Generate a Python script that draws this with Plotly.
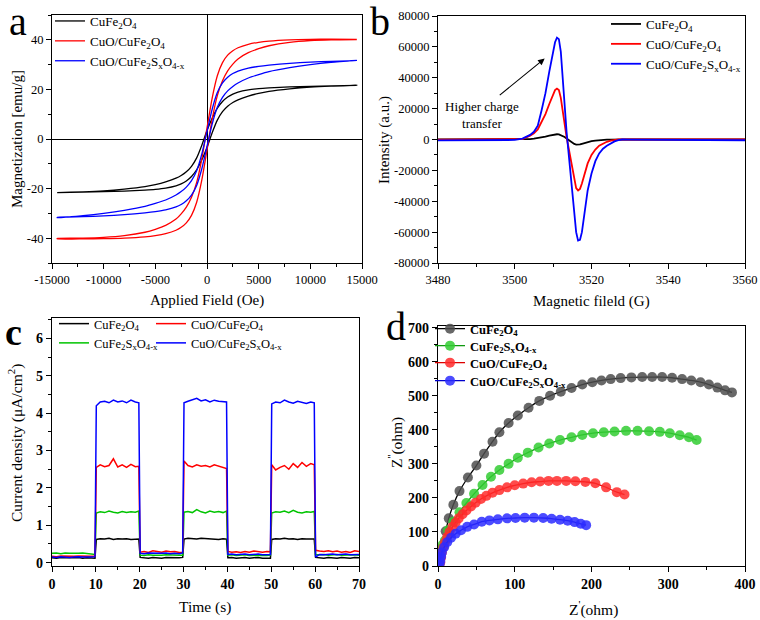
import plotly.graph_objects as go

W, H = 760, 620
SERIF = "Liberation Serif"

# ---------------- Panel a : hysteresis loops ----------------
H_desc = [14500, 12000, 10000, 8000, 6000, 5000, 4000, 3000, 2500, 2000, 1500, 1000, 500, 0,
          -500, -1000, -1500, -2000, -2500, -3000, -4000, -5000, -6000, -8000, -10000, -12000, -14500]
H_asc = [-14500, -12000, -10000, -8000, -6000, -5000, -4000, -3000, -2500, -2000, -1500, -1000, -500, 0,
         500, 1000, 1500, 2000, 2500, 3000, 4000, 5000, 6000, 8000, 10000, 12000, 14500]

blk_up = [21.6, 21.4, 21.2, 21.0, 20.6, 20.3, 19.8, 18.9, 18.1, 16.9, 15.1, 12.4, 8.4, 3.4,
          -2.5, -7.6, -11.0, -13.2, -14.7, -15.8, -17.3, -18.4, -19.2, -20.2, -20.9, -21.3, -21.6]
blk_dn = [-21.6, -21.4, -21.2, -21.0, -20.6, -20.3, -19.8, -18.9, -18.1, -16.9, -15.1, -12.4, -8.4, -3.4,
          2.5, 7.6, 11.0, 13.2, 14.7, 15.8, 17.3, 18.4, 19.2, 20.2, 20.9, 21.3, 21.6]
red_up = [40.2, 40.3, 40.2, 40.0, 39.5, 39.0, 38.2, 36.8, 35.6, 33.8, 30.8, 25.5, 16.5, 4.5,
          -8.0, -17.5, -23.5, -27.5, -30.2, -32.3, -34.8, -36.4, -37.6, -39.0, -39.7, -40.0, -40.1]
red_dn = [-40.2, -40.3, -40.2, -40.0, -39.5, -39.0, -38.2, -36.8, -35.6, -33.8, -30.8, -25.5, -16.5, -4.5,
          8.0, 17.5, 23.5, 27.5, 30.2, 32.3, 34.8, 36.4, 37.6, 39.0, 39.7, 40.0, 40.1]
blu_up = [31.6, 31.3, 31.0, 30.5, 29.8, 29.3, 28.6, 27.4, 26.4, 24.9, 22.6, 18.7, 12.0, 3.0,
          -6.0, -12.8, -16.8, -19.4, -21.2, -22.6, -24.6, -26.0, -27.2, -28.8, -30.0, -30.9, -31.7]
blu_dn = [-31.6, -31.3, -31.0, -30.5, -29.8, -29.3, -28.6, -27.4, -26.4, -24.9, -22.6, -18.7, -12.0, -3.0,
          6.0, 12.8, 16.8, 19.4, 21.2, 22.6, 24.6, 26.0, 27.2, 28.8, 30.0, 30.9, 31.7]

# ---------------- Panel b : EPR ----------------
B_x = [3480, 3490, 3500, 3502, 3504, 3505, 3506, 3507, 3508, 3509,
       3510, 3510.5, 3511, 3511.5, 3512, 3512.5, 3513, 3513.5, 3514, 3514.5,
       3515, 3515.5, 3516, 3516.5, 3517, 3517.5, 3518, 3518.5, 3519, 3520,
       3521, 3522, 3523, 3524, 3525, 3526, 3527, 3528, 3530, 3540, 3550, 3560]
epr_blk = [0, 0, 0, 100, 300, 500, 800, 1300, 1800, 2500,
           3100, 3300, 3400, 3300, 2800, 2300, 1600, 700, -300, -1300,
           -2200, -2900, -3300, -3400, -3200, -2800, -2400, -2000, -1700, -1100,
           -700, -400, -250, -100, -50, 0, 0, 0, 0, 0, 0, 0]
epr_red = [-100, -100, 0, 300, 2500, 4000, 6500, 11000, 16500, 23000,
           29500, 32000, 33000, 32000, 27000, 18000, 9000, 1500, -5000, -12000,
           -20000, -27000, -31500, -33000, -32000, -28500, -24000, -19500, -15500, -10000,
           -6500, -4000, -2500, -1500, -700, -200, 0, 0, 0, 0, 0, 0]
epr_blu = [-600, -500, -300, 600, 3000, 5000, 9000, 19000, 30000, 44000,
           58000, 63000, 66000, 65000, 57000, 38000, 20000, 5000, -8000, -22000,
           -37000, -50000, -60000, -65500, -65000, -60000, -50000, -41000, -33000, -22000,
           -14000, -9000, -6000, -4000, -2500, -1200, -400, 0, -100, -300, -400, -500]

# ---------------- Panel c : photocurrent ----------------
T = [0, 1, 2, 3, 4, 5, 6, 7, 8, 9, 9.8,
     10.1, 11, 12, 13, 14, 15, 16, 17, 18, 19, 19.8,
     20.1, 21, 22, 23, 24, 25, 26, 27, 28, 29, 29.8,
     30.1, 31, 32, 33, 34, 35, 36, 37, 38, 39, 39.8,
     40.1, 41, 42, 43, 44, 45, 46, 47, 48, 49, 49.8,
     50.1, 51, 52, 53, 54, 55, 56, 57, 58, 59, 59.8,
     60.1, 61, 62, 63, 64, 65, 66, 67, 68, 69, 70]
j_blk = [0.13, 0.12, 0.14, 0.13, 0.12, 0.13, 0.14, 0.12, 0.13, 0.13, 0.12,
         0.62, 0.64, 0.63, 0.65, 0.62, 0.64, 0.63, 0.64, 0.62, 0.63, 0.63,
         0.14, 0.13, 0.12, 0.14, 0.13, 0.12, 0.14, 0.13, 0.12, 0.13, 0.14,
         0.63, 0.65, 0.64, 0.63, 0.65, 0.64, 0.63, 0.64, 0.62, 0.64, 0.63,
         0.13, 0.14, 0.12, 0.13, 0.14, 0.12, 0.13, 0.14, 0.12, 0.13, 0.12,
         0.62, 0.64, 0.63, 0.65, 0.63, 0.64, 0.62, 0.64, 0.63, 0.62, 0.63,
         0.14, 0.13, 0.12, 0.14, 0.13, 0.12, 0.14, 0.13, 0.12, 0.14, 0.13]
j_red = [0.17, 0.16, 0.18, 0.17, 0.16, 0.17, 0.18, 0.17, 0.16, 0.17, 0.17,
         2.55, 2.62, 2.57, 2.60, 2.78, 2.56, 2.62, 2.55, 2.63, 2.57, 2.58,
         0.28, 0.30, 0.27, 0.32, 0.30, 0.28, 0.31, 0.29, 0.30, 0.27, 0.28,
         2.72, 2.60, 2.56, 2.62, 2.58, 2.60, 2.56, 2.62, 2.58, 2.55, 2.52,
         0.30, 0.28, 0.29, 0.27, 0.30, 0.28, 0.31, 0.29, 0.28, 0.30, 0.29,
         2.62, 2.48, 2.55, 2.60, 2.50, 2.65, 2.55, 2.68, 2.58, 2.65, 2.62,
         0.33, 0.31, 0.30, 0.32, 0.29, 0.31, 0.28, 0.30, 0.27, 0.32, 0.30]
j_grn = [0.25, 0.26, 0.24, 0.26, 0.25, 0.24, 0.25, 0.26, 0.24, 0.23, 0.22,
         1.33, 1.36, 1.34, 1.38, 1.35, 1.33, 1.37, 1.34, 1.36, 1.35, 1.38,
         0.20, 0.19, 0.21, 0.20, 0.19, 0.20, 0.21, 0.20, 0.19, 0.20, 0.20,
         1.35, 1.37, 1.34, 1.42, 1.36, 1.33, 1.38, 1.35, 1.37, 1.34, 1.38,
         0.20, 0.21, 0.19, 0.20, 0.21, 0.19, 0.20, 0.21, 0.20, 0.19, 0.20,
         1.33, 1.36, 1.35, 1.38, 1.34, 1.40, 1.35, 1.33, 1.36, 1.35, 1.37,
         0.22, 0.21, 0.22, 0.20, 0.21, 0.22, 0.20, 0.21, 0.22, 0.21, 0.20]
j_blu = [0.15, 0.14, 0.16, 0.15, 0.14, 0.15, 0.16, 0.15, 0.14, 0.15, 0.16,
         4.20, 4.30, 4.32, 4.28, 4.35, 4.30, 4.33, 4.28, 4.35, 4.30, 4.28,
         0.25, 0.24, 0.26, 0.25, 0.24, 0.25, 0.26, 0.24, 0.25, 0.24, 0.26,
         4.28, 4.32, 4.35, 4.40, 4.33, 4.36, 4.30, 4.35, 4.32, 4.30, 4.30,
         0.22, 0.23, 0.21, 0.22, 0.23, 0.21, 0.22, 0.23, 0.21, 0.22, 0.22,
         4.25, 4.30, 4.28, 4.35, 4.30, 4.27, 4.32, 4.28, 4.26, 4.30, 4.28,
         0.15, 0.22, 0.21, 0.22, 0.23, 0.21, 0.22, 0.23, 0.21, 0.22, 0.22]

# ---------------- Panel d : Nyquist ----------------
zr_blk = [10, 14, 20, 28, 39, 50, 60, 71, 80, 92, 104, 118, 132, 146, 160, 174, 188, 201, 213, 225,
          238, 252, 266, 279, 292, 305, 318, 330, 342, 353, 364, 374, 383]
zi_blk = [102, 140, 180, 220, 260, 295, 330, 365, 393, 420, 442, 465, 485, 500, 512, 523, 533, 540, 545, 549,
          552, 554, 555, 555, 555, 553, 549, 545, 540, 533, 524, 516, 510]
zr_grn = [3, 6, 9, 13, 20, 28, 37, 47, 58, 69, 80, 92, 104, 117, 131, 145, 159, 174, 188, 202,
          216, 230, 245, 260, 275, 289, 302, 315, 327, 337]
zi_grn = [50, 62, 75, 105, 130, 158, 185, 212, 238, 262, 282, 300, 318, 333, 348, 360, 370, 378, 385, 390,
          393, 395, 397, 397, 396, 394, 390, 384, 378, 370]
zr_red = [3, 4, 5, 7, 9, 12, 15, 19, 23, 27, 32, 37, 43, 49, 56, 63, 71, 80, 90, 100,
          111, 122, 133, 144, 155, 167, 179, 192, 205, 219, 233, 243]
zi_red = [10, 25, 40, 55, 70, 85, 100, 115, 128, 140, 152, 163, 175, 186, 197, 206, 215, 223, 231, 237,
          242, 246, 248, 250, 250, 250, 249, 247, 243, 231, 217, 210]
zr_blu = [2, 3, 4, 5, 8, 12, 17, 23, 30, 38, 47, 57, 67, 78, 90, 101, 113, 125, 137, 148,
          159, 169, 178, 186, 193]
zi_blu = [5, 15, 28, 40, 55, 70, 83, 95, 105, 115, 122, 130, 134, 137, 140, 141, 142, 142, 141, 139,
          136, 133, 129, 124, 120]

# ---------------- labels ----------------
N_CF = "CuFe<sub>2</sub>O<sub>4</sub>"
N_CUCF = "CuO/CuFe<sub>2</sub>O<sub>4</sub>"
N_CFS = "CuFe<sub>2</sub>S<sub>x</sub>O<sub>4-x</sub>"
N_CUCFS = "CuO/CuFe<sub>2</sub>S<sub>x</sub>O<sub>4-x</sub>"

a_xticks = [-15000, -10000, -5000, 0, 5000, 10000, 15000]
a_xtext = ["-15000", "-10000", "-5000", "0", "5000", "10000", "15000"]
a_yticks = [-40, -20, 0, 20, 40]
a_ytext = ["-40", "-20", "0", "20", "40"]
b_xticks = [3480, 3500, 3520, 3540, 3560]
b_yticks = [-80000, -60000, -40000, -20000, 0, 20000, 40000, 60000, 80000]
b_ytext = ["-80000", "-60000", "-40000", "-20000", "0", "20000", "40000", "60000", "80000"]
c_xticks = [0, 10, 20, 30, 40, 50, 60, 70]
c_yticks = [0, 1, 2, 3, 4, 5, 6]
d_xticks = [0, 100, 200, 300, 400]
d_yticks = [0, 100, 200, 300, 400, 500, 600, 700]

BLACK, RED, BLUE, GREEN = "#000000", "#ff0000", "#0000ff", "#00c400"


def px(x):
    return x / W


def py(y):
    return 1 - y / H


fig = go.Figure()

# panel a traces
for up, dn, col, name in [(blk_up, blk_dn, BLACK, N_CF), (red_up, red_dn, RED, N_CUCF),
                          (blu_up, blu_dn, BLUE, N_CUCFS)]:
    fig.add_trace(go.Scatter(x=H_desc + H_asc, y=up + dn, mode="lines", name=name,
                             line=dict(color=col, width=1.3, shape="spline", smoothing=0.6),
                             xaxis="x", yaxis="y", legend="legend"))

# panel b traces
for yy, col, name in [(epr_blk, BLACK, N_CF), (epr_red, RED, N_CUCF), (epr_blu, BLUE, N_CUCFS)]:
    fig.add_trace(go.Scatter(x=B_x, y=yy, mode="lines", name=name,
                             line=dict(color=col, width=1.8),
                             xaxis="x2", yaxis="y2", legend="legend2"))

# panel c traces
for yy, col, name, lg in [(j_blk, BLACK, N_CF, "legend3"), (j_grn, GREEN, N_CFS, "legend3"),
                          (j_red, RED, N_CUCF, "legend5"), (j_blu, BLUE, N_CUCFS, "legend5")]:
    fig.add_trace(go.Scatter(x=T, y=yy, mode="lines", name=name,
                             line=dict(color=col, width=1.5),
                             xaxis="x3", yaxis="y3", legend=lg))

# panel d traces (one legend box per entry, to match the tight row spacing)
for xr, yi, mcol, lcol, name, lg in [(zr_blk, zi_blk, "#4d4d4d", "#000000", N_CF, "legend4"),
                                     (zr_grn, zi_grn, "#33cc33", "#119911", N_CFS, "legend6"),
                                     (zr_red, zi_red, "#ff2b2b", "#dd0000", N_CUCF, "legend7"),
                                     (zr_blu, zi_blu, "#2b2bff", "#0000cc", N_CUCFS, "legend8")]:
    fig.add_trace(go.Scatter(x=xr, y=yi, mode="lines+markers", name=name,
                             line=dict(color=lcol, width=1.3, shape="spline", smoothing=0.8),
                             marker=dict(color=mcol, size=10, opacity=0.85, line=dict(width=0)),
                             xaxis="x4", yaxis="y4", legend=lg))

tickfont_reg = dict(family=SERIF, size=12.5, color="black")
tickfont_bold = dict(family=SERIF, size=14, color="black", weight="bold")


def axis(dom, anchor, rng, tickvals, ticktext, dtick_minor, font, zeroline=False):
    return dict(domain=dom, anchor=anchor, range=rng, tickvals=tickvals, ticktext=ticktext,
                automargin=False,
                showline=True, mirror=True, linecolor="black", linewidth=1.2,
                showgrid=False, zeroline=zeroline, zerolinecolor="black", zerolinewidth=1.2,
                ticks="outside", ticklen=5, tickwidth=1.1, tickcolor="black", tickfont=font,
                minor=dict(ticks="outside", ticklen=3, tickwidth=1, tickcolor="black",
                           dtick=dtick_minor, showgrid=False),
                fixedrange=True)


def leg(x, y, size, bold=False):
    return dict(x=px(x), y=py(y), xanchor="left", yanchor="top", bgcolor="rgba(0,0,0,0)",
                font=dict(family=SERIF, size=size, color="black",
                          weight="bold" if bold else "normal"))


fig.update_layout(
    width=W, height=H, margin=dict(l=0, r=0, t=0, b=0, autoexpand=False),
    paper_bgcolor="white", plot_bgcolor="white",
    font=dict(family=SERIF, color="black"),
    xaxis=axis([px(52), px(362)], "y", [-15000, 15000], a_xticks, a_xtext, 2500, tickfont_reg, True),
    yaxis=axis([py(263), py(15)], "x", [-50, 50], a_yticks, a_ytext, 10, tickfont_reg, True),
    xaxis2=axis([px(438), px(745)], "y2", [3480, 3560], b_xticks, [str(v) for v in b_xticks], 10, tickfont_reg),
    yaxis2=axis([py(263), py(16)], "x2", [-80000, 80000], b_yticks, b_ytext, 10000, tickfont_reg),
    xaxis3=axis([px(52), px(359)], "y3", [0, 70], c_xticks, [str(v) for v in c_xticks], 5, tickfont_bold),
    yaxis3=axis([py(566), py(318)], "x3", [-0.09, 6.55], c_yticks, [str(v) for v in c_yticks], 0.5, tickfont_bold),
    xaxis4=axis([px(438), px(745)], "y4", [0, 400], d_xticks, [str(v) for v in d_xticks], 50, tickfont_bold),
    yaxis4=axis([py(566), py(326)], "x4", [0, 705], d_yticks, [str(v) for v in d_yticks], 50, tickfont_bold),
    showlegend=True,
    legend=leg(50, 6, 13),
    legend2=leg(606, 9, 13),
    legend3=leg(54, 309, 12.5),
    legend5=leg(151, 309, 12.5),
    legend4=leg(430, 314, 12.5, True),
    legend6=leg(430, 331, 12.5, True),
    legend7=leg(430, 348, 12.5, True),
    legend8=leg(430, 366, 12.5, True),
)

ann = []


def txt(x, y, s, size, angle=0, bold=False):
    ann.append(dict(xref="paper", yref="paper", x=px(x), y=py(y), text=s, showarrow=False,
                    xanchor="center", yanchor="middle", textangle=angle,
                    font=dict(family=SERIF, size=size, color="black",
                              weight="bold" if bold else "normal")))


# axis titles
txt(207, 300, "Applied Field (Oe)", 15)
txt(17, 139, "Magnetization [emu/g]", 15, -90)
txt(591, 301, "Magnetic fileld (G)", 15)
txt(384, 140, "Intensity (a.u.)", 15, -90)
txt(205, 607, "Time (s)", 15.5)
txt(15, 443, "Current density (μA/cm<sup>2</sup>)", 15.5, -90)
txt(593, 608, "Z<sup>'</sup>(ohm)", 15.5)
txt(395, 443, "Z<sup>''</sup>(ohm)", 15.5, -90)
# panel letters
txt(18, 21, "a", 40)
txt(380, 21, "b", 40)
txt(14, 332, "c", 38, bold=True)
txt(396, 326, "d", 40)

# annotation in panel b
ann.append(dict(xref="x2", yref="y2", x=3491.5, y=16000, text="Higher charge<br>transfer",
                showarrow=False, font=dict(family=SERIF, size=13, color="black"), align="center"))
ann.append(dict(xref="x2", yref="y2", x=3507.8, y=52400, ax=3495.7, ay=28000, axref="x2", ayref="y2",
                text="", showarrow=True, arrowhead=2, arrowsize=1.2, arrowwidth=1.1, arrowcolor="black"))

fig.update_layout(annotations=ann)
fig.write_html("out.html", config={"displayModeBar": False},
               post_script="document.body.style.margin='0px';document.body.style.overflow='hidden';")
